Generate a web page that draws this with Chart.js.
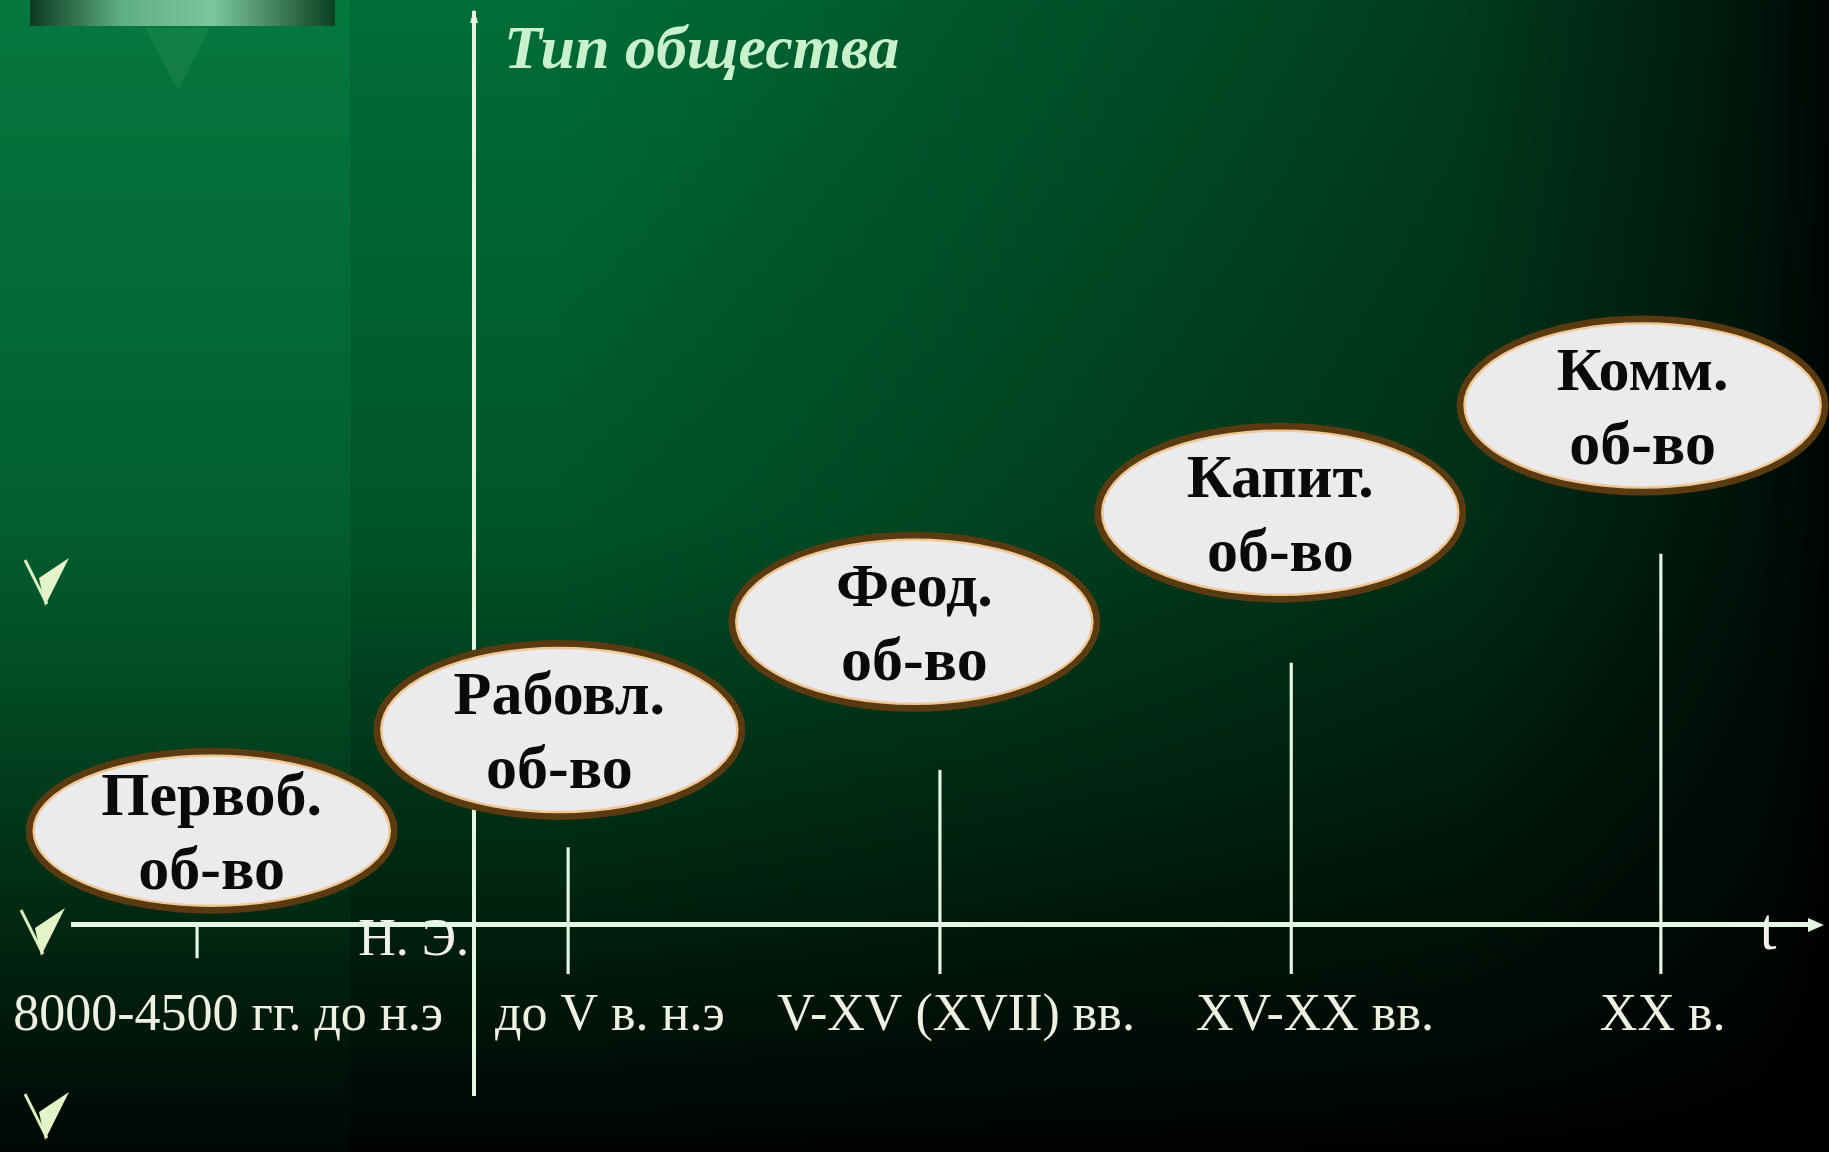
<!DOCTYPE html>
<html>
<head>
<meta charset="utf-8">
<script src="https://cdn.jsdelivr.net/npm/chart.js@4.4.0/dist/chart.umd.min.js"></script>
<style>
  html, body { margin: 0; padding: 0; background: #000; }
  #wrap { width: 1829px; height: 1152px; }
</style>
</head>
<body>
<div id="wrap"><canvas id="eraChart" width="1829" height="1152"></canvas></div>
<script>
// data
const societies = [['Первоб.', 'об-во'], ['Рабовл.', 'об-во'], ['Феод.', 'об-во'], ['Капит.', 'об-во'], ['Комм.', 'об-во']];
const societyX = [0.04, 0.99, 1.96, 2.96, 3.95];
const societyLevel = [0.89, 1.84, 2.86, 3.89, 4.9];

const periodLabels = ['8000-4500 гг. до н.э', 'до V в. н.э', 'V-XV (XVII) вв.', 'XV-XX вв.', 'XX в.'];
const periodLabelX = [0.085, 1.128, 2.074, 3.055, 4.005];

const stemX = [0, 1.014, 2.03, 2.99, 4.0];
const stemTop = [0, 0.73, 1.46, 2.47, 3.5];
const stemBottom = [-0.31, -0.46, -0.46, -0.46, -0.46];

const eraBoundary = 0.757; // н.э.

const axisColor = '#e4f6e4';

// background, decorations, captions
const backdrop = {
    id: 'backdrop',
    beforeDraw(chart) {
        const c = chart.ctx, W = chart.width, H = chart.height;
        const xs = chart.scales.x, ys = chart.scales.y;
        c.save();
        let g = c.createLinearGradient(0, 0, 0, H);
        g.addColorStop(0, '#006d37');
        g.addColorStop(0.45, '#00552a');
        g.addColorStop(0.78, '#00230f');
        g.addColorStop(1, '#000302');
        c.fillStyle = g;
        c.fillRect(0, 0, W, H);

        g = c.createLinearGradient(0, 0, W, 0);
        g.addColorStop(0, 'rgba(0,0,0,0)');
        g.addColorStop(0.3, 'rgba(0,0,0,0)');
        g.addColorStop(0.8, 'rgba(0,0,0,0.45)');
        g.addColorStop(0.96, 'rgba(0,0,0,0.8)');
        g.addColorStop(1, 'rgba(0,0,0,0.95)');
        c.fillStyle = g;
        c.fillRect(0, 0, W, H);

        // lighter left strip
        g = c.createLinearGradient(0, 0, 0, H);
        g.addColorStop(0, 'rgba(20,150,80,0.28)');
        g.addColorStop(0.6, 'rgba(10,120,60,0.2)');
        g.addColorStop(1, 'rgba(0,40,20,0.1)');
        c.fillStyle = g;
        c.fillRect(0, 0, 350, H);

        // top-left bar
        g = c.createLinearGradient(30, 0, 335, 0);
        g.addColorStop(0, '#0a3a20');
        g.addColorStop(0.3, '#5fae82');
        g.addColorStop(0.6, '#7cc79b');
        g.addColorStop(1, '#0b3f22');
        c.fillStyle = g;
        c.fillRect(30, 0, 305, 26);
        c.fillStyle = 'rgba(120,200,150,0.12)';
        c.beginPath();
        c.moveTo(145, 28); c.lineTo(210, 28); c.lineTo(178, 90); c.closePath();
        c.fill();

        // bullets
        [[47, 580], [43, 930], [47, 1114]].forEach(([bx, by]) => {
            c.strokeStyle = '#d8f0c0';
            c.lineWidth = 3;
            c.beginPath();
            c.moveTo(bx - 22, by - 20);
            c.lineTo(bx, by + 24);
            c.stroke();
            c.fillStyle = '#e2f4c8';
            c.beginPath();
            c.moveTo(bx - 2, by + 26);
            c.lineTo(bx - 8, by - 2);
            c.lineTo(bx + 22, by - 22);
            c.closePath();
            c.fill();
        });

        const ax = xs.getPixelForValue(eraBoundary);
        const ay = ys.getPixelForValue(0);
        c.fillStyle = '#f2f2ea';
        c.font = '52px "Liberation Serif"';
        c.textAlign = 'right';
        c.textBaseline = 'middle';
        c.fillText('Н. Э.', ax - 5, ay + 16);
        c.textAlign = 'center';
        c.font = '60px "Liberation Serif"';
        c.fillText('t', xs.right - 44, ay + 8);

        c.fillStyle = '#c8f2cc';
        c.font = 'italic bold 62px "Liberation Serif"';
        c.textAlign = 'left';
        c.fillText('Тип общества', ax + 30, 52);
        c.restore();
    },
    afterDraw(chart) {
        const c = chart.ctx;
        const xs = chart.scales.x, ys = chart.scales.y;
        const ax = xs.getPixelForValue(eraBoundary);
        const ay = ys.getPixelForValue(0);
        c.save();
        c.fillStyle = axisColor;
        c.beginPath();
        c.moveTo(xs.right + 12, ay);
        c.lineTo(xs.right - 4, ay - 7);
        c.lineTo(xs.right - 4, ay + 7);
        c.closePath();
        c.fill();
        c.beginPath();
        c.moveTo(ax, ys.top - 4);
        c.lineTo(ax - 4, ys.top + 10);
        c.lineTo(ax + 4, ys.top + 10);
        c.closePath();
        c.fill();
        c.restore();
    }
};

const ovals = {
    id: 'ovals',
    afterDatasetsDraw(chart) {
        const c = chart.ctx;
        chart.getDatasetMeta(1).data.forEach((p, i) => {
            const rx = 182, ry = i === 0 ? 79 : 86;
            c.save();
            c.beginPath();
            c.ellipse(p.x, p.y, rx, ry, 0, 0, Math.PI * 2);
            c.fillStyle = '#ebebee';
            c.fill();
            c.lineWidth = 8;
            c.strokeStyle = '#5a3a10';
            c.stroke();
            c.beginPath();
            c.ellipse(p.x, p.y, rx - 4, ry - 4, 0, 0, Math.PI * 2);
            c.lineWidth = 2.5;
            c.strokeStyle = '#f0c898';
            c.stroke();
            c.fillStyle = '#0a0a0a';
            c.font = 'bold 62px "Liberation Serif"';
            c.textAlign = 'center';
            c.textBaseline = 'middle';
            c.fillText(societies[i][0], p.x, p.y - 32);
            c.fillText(societies[i][1], p.x, p.y + 42);
            c.restore();
        });
    }
};

const eraChart = document.getElementById('eraChart').getContext('2d');

const chart = new Chart(eraChart, {
    type: 'scatter',
    data: {
        datasets: [{
            type: 'bar',
            data: stemX.map((x, i) => ({ x: x, y: [stemBottom[i], stemTop[i]] })),
            backgroundColor: axisColor,
            barThickness: 2.5
        }, {
            type: 'scatter',
            data: societyX.map((x, i) => ({ x: x, y: societyLevel[i] })),
            pointRadius: 0
        }]
    },
    options: {
        responsive: false,
        animation: false,
        events: [],
        layout: { padding: { left: 73, right: 17, top: 13, bottom: 57 } },
        plugins: { legend: { display: false }, tooltip: { enabled: false } },
        scales: {
            x: {
                type: 'linear',
                min: -0.339,
                max: 4.413,
                offset: false,
                position: { y: 0 },
                grid: { display: false, drawTicks: false },
                border: { display: true, color: axisColor, width: 5 },
                afterBuildTicks: s => { s.ticks = periodLabelX.map(v => ({ value: v })); },
                afterFit: s => { s.paddingLeft = 0; s.paddingRight = 0; },
                ticks: {
                    autoSkip: false,
                    maxRotation: 0,
                    padding: 60,
                    color: '#eef0e2',
                    font: { family: 'Liberation Serif', size: 52 },
                    callback: (v, i) => periodLabels[i]
                }
            },
            y: {
                type: 'linear',
                min: -1.604,
                max: 8.604,
                position: { x: eraBoundary },
                grid: { display: false, drawTicks: false },
                border: { display: true, color: axisColor, width: 4 },
                ticks: { display: false }
            }
        }
    },
    plugins: [backdrop, ovals]
});
</script>
</body>
</html>
